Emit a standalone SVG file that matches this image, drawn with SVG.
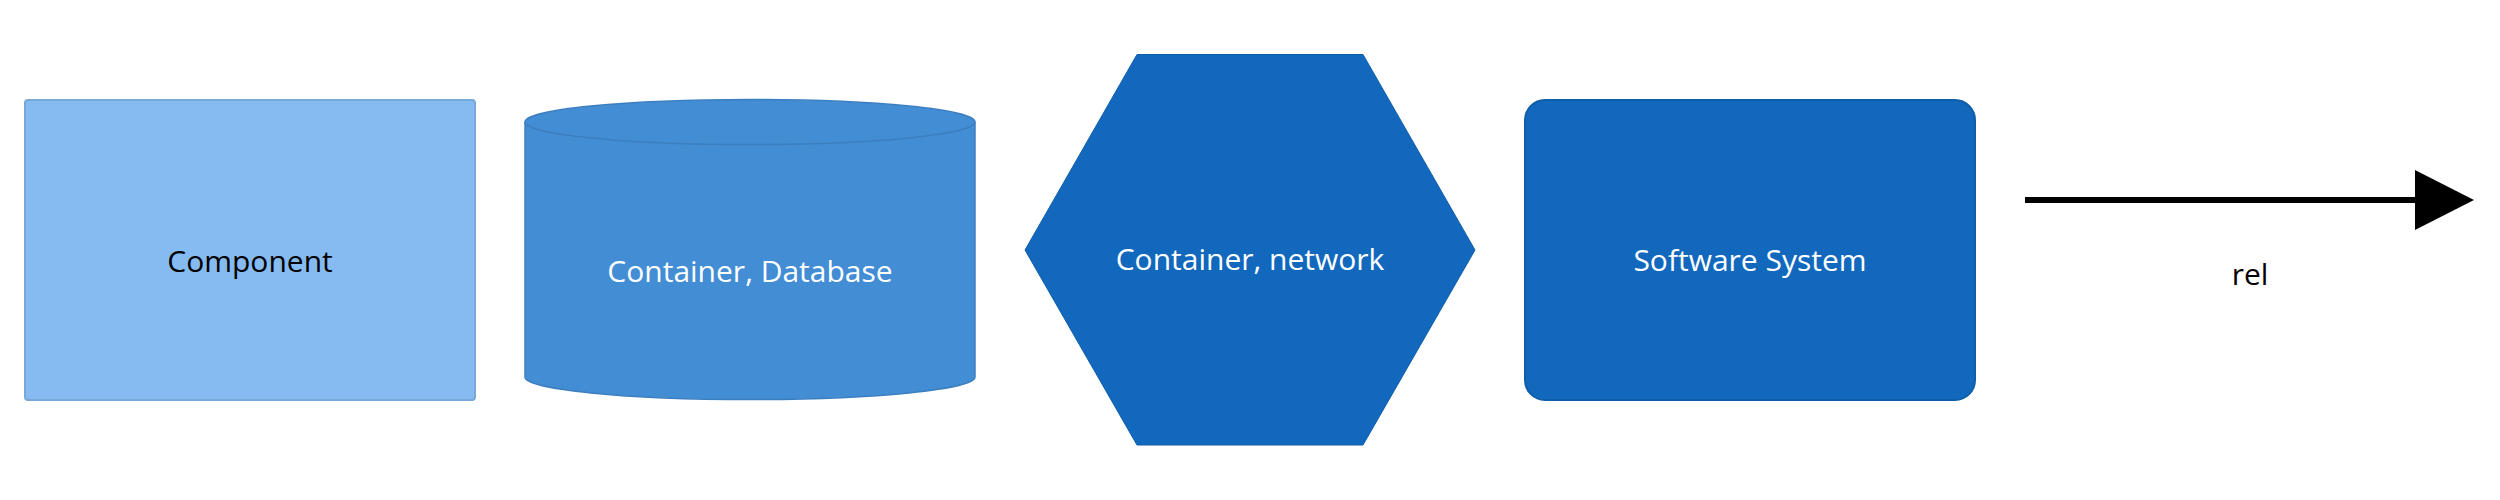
<svg xmlns="http://www.w3.org/2000/svg" width="2500" height="500" viewBox="0 0 2500 500">
<defs>
<style>
.lbl{font-family:"Open Sans","Noto Sans",sans-serif;font-size:30px;text-anchor:middle}
.dark{fill:#000000}
.light{fill:#ffffff}
</style>
<marker id="arrow" markerUnits="userSpaceOnUse" markerWidth="60" markerHeight="60" refX="0" refY="30" orient="auto">
<path d="M0,0 L59,30 L0,60 Z" fill="#000000"/>
</marker>
</defs>
<rect width="2500" height="500" fill="#ffffff"/>
<g id="component">
<rect x="25" y="100" width="450" height="300" rx="3" fill="#85bbf0" stroke="#78a8d8" stroke-width="2"/>
<text class="lbl dark" x="250" y="272">Component</text>
</g>
<g id="container-database">
<path d="M525,122 A225,22.5 0 0 1 975,122 L975,377 A225,22.5 0 0 1 525,377 Z" fill="#438dd5" stroke="#3c7fc0" stroke-width="1.5"/>
<path d="M525,122 A225,22.5 0 0 0 975,122" fill="none" stroke="#3c7fc0" stroke-width="1.5"/>
<text class="lbl light" x="750" y="282">Container, Database</text>
</g>
<g id="container-network">
<polygon points="1025,250 1137,54.5 1363,54.5 1475,250 1363,445 1137,445" fill="#1168bd" stroke="#0f5eaa" stroke-width="1"/>
<text class="lbl light" x="1250" y="270">Container, network</text>
</g>
<g id="software-system">
<rect x="1525" y="100" width="450" height="300" rx="20" fill="#1168bd" stroke="#0f5eaa" stroke-width="2"/>
<text class="lbl light" x="1750" y="271">Software System</text>
</g>
<g id="connectors">
<line x1="2025" y1="200" x2="2415" y2="200" stroke="#000000" stroke-width="6" marker-end="url(#arrow)"/>
<text class="lbl dark" x="2250" y="285">rel</text>
</g>
</svg>
